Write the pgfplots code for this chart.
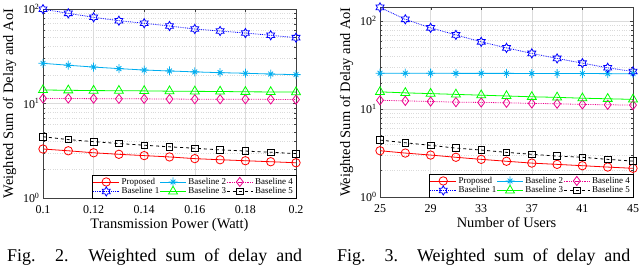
\documentclass[border=0pt]{standalone}
\usepackage{fontspec}
\setmainfont{Liberation Serif}
\usepackage{pgfplots}
\pgfplotsset{compat=1.18}
\usepackage{pgfplotstable}

\pgfdeclareplotmark{hexagram}{%
  \pgfpathmoveto{\pgfpointpolar{90}{\pgfplotmarksize}}%
  \pgfpathlineto{\pgfpointpolar{120}{0.577*\pgfplotmarksize}}%
  \pgfpathlineto{\pgfpointpolar{150}{\pgfplotmarksize}}%
  \pgfpathlineto{\pgfpointpolar{180}{0.577*\pgfplotmarksize}}%
  \pgfpathlineto{\pgfpointpolar{210}{\pgfplotmarksize}}%
  \pgfpathlineto{\pgfpointpolar{240}{0.577*\pgfplotmarksize}}%
  \pgfpathlineto{\pgfpointpolar{270}{\pgfplotmarksize}}%
  \pgfpathlineto{\pgfpointpolar{300}{0.577*\pgfplotmarksize}}%
  \pgfpathlineto{\pgfpointpolar{330}{\pgfplotmarksize}}%
  \pgfpathlineto{\pgfpointpolar{0}{0.577*\pgfplotmarksize}}%
  \pgfpathlineto{\pgfpointpolar{30}{\pgfplotmarksize}}%
  \pgfpathlineto{\pgfpointpolar{60}{0.577*\pgfplotmarksize}}%
  \pgfpathclose
  \pgfusepathqstroke}
\pgfdeclareplotmark{matast}{%
  \pgfpathmoveto{\pgfqpoint{-\pgfplotmarksize}{0pt}}\pgfpathlineto{\pgfqpoint{\pgfplotmarksize}{0pt}}%
  \pgfpathmoveto{\pgfqpoint{0pt}{-\pgfplotmarksize}}\pgfpathlineto{\pgfqpoint{0pt}{\pgfplotmarksize}}%
  \pgfpathmoveto{\pgfpointpolar{45}{0.75*\pgfplotmarksize}}\pgfpathlineto{\pgfpointpolar{225}{0.75*\pgfplotmarksize}}%
  \pgfpathmoveto{\pgfpointpolar{135}{0.75*\pgfplotmarksize}}\pgfpathlineto{\pgfpointpolar{315}{0.75*\pgfplotmarksize}}%
  \pgfusepathqstroke}

\pgfplotstableread{
x     P     B1    B2    B3    B4    B5
0.10  3.30  99.5  26.6  13.9  11.3  4.45
0.11  3.16  90.0  25.4  13.8  11.3  4.15
0.12  3.01  81.7  24.3  13.7  11.25 3.95
0.13  2.90  75.2  23.4  13.65 11.2  3.77
0.14  2.81  70.6  22.6  13.6  11.2  3.62
0.15  2.72  66.1  22.1  13.5  11.15 3.48
0.16  2.61  61.4  21.6  13.45 11.1  3.36
0.17  2.54  58.5  21.2  13.4  11.1  3.23
0.18  2.48  55.7  20.9  13.3  11.1  3.14
0.19  2.42  52.7  20.5  13.25 11.05 3.05
0.20  2.36  49.7  20.2  13.2  11.0  2.95
}\powtab

\pgfplotstableread{
x   P     B1     B2    B3    B4    B5
25  3.36  143.5  25.6  15.7  12.6  4.44
27  3.16  105.0  25.6  15.3  12.4  4.14
29  3.00  84.0   25.6  15.0  12.2  3.87
31  2.83  69.8   25.5  14.7  12.0  3.60
33  2.68  58.2   25.5  14.4  11.9  3.42
35  2.55  49.7   25.5  14.1  11.8  3.22
37  2.43  43.0   25.4  13.8  11.6  3.06
39  2.35  37.7   25.4  13.6  11.5  2.92
41  2.27  33.3   25.4  13.3  11.3  2.83
43  2.19  29.5   25.3  13.1  11.2  2.68
45  2.12  26.8   25.3  12.9  11.1  2.56
}\usertab

\newcommand{\legent}[1]{\makebox[36bp][l]{#1}}

\pgfplotsset{
  mystyle/.style={
    scale only axis,
    anchor=south west,
    ymin=1,
    ytick={1,10,100},
    yticklabels={10\textsuperscript{0},10\textsuperscript{1},10\textsuperscript{2}},
    tick align=inside,
    major tick length=3bp,
    minor tick length=1.8bp,
    xmajorgrids, ymajorgrids, yminorgrids,
    major grid style={draw=black!14, line width=0.4pt},
    minor grid style={draw=black!14, dotted, line width=0.4pt},
    axis line style={draw=black!75, line width=0.5pt},
    tick style={draw=black!75},
    ticklabel style={font=\fontsize{12}{14}\selectfont},
    xticklabel style={yshift=-4bp},
    label style={font=\fontsize{14.5}{16}\selectfont},
    xlabel style={yshift=2bp},
    ylabel={Weighted Sum of Delay and AoI},
    legend columns=3,
    legend style={at={(1,0)}, anchor=south east, draw=black, line width=0.4pt,
      font=\fontsize{9}{10}\selectfont, inner xsep=1bp, inner ysep=0.5bp, row sep=-2.2bp},
    legend cell align=left,
    legend image code/.code={\draw[mark repeat=2,mark phase=2] plot coordinates {(0bp,0bp) (13bp,0bp) (26bp,0bp)};},
  },
  sP/.style={red, line width=0.8pt, mark=o, mark size=4.2bp, mark options={solid}},
  sB1/.style={blue, line width=0.8pt, densely dotted, mark=hexagram, mark size=4.6bp, mark options={solid}},
  sB2/.style={cyan, line width=0.8pt, mark=matast, mark size=4.5bp, mark options={solid}},
  sB3/.style={green, line width=0.8pt, mark=triangle, mark size=5.2bp, mark options={solid}},
  sB4/.style={magenta, line width=0.8pt, densely dotted, mark=diamond, mark size=4.6bp, mark options={solid}},
  sB5/.style={black, line width=0.8pt, dashed, mark=square, mark size=3.3bp, mark options={solid}},
}

\begin{document}
\begin{tikzpicture}
\path[use as bounding box] (0,0) rectangle (640bp,266bp);

\begin{semilogyaxis}[mystyle,
  at={(43bp,68bp)}, width=253bp, height=189bp,
  xmin=0.1, xmax=0.2, ymax=100,
  xtick={0.1,0.12,0.14,0.16,0.18,0.2},
  xticklabels={0.1,0.12,0.14,0.16,0.18,0.2},
  xlabel={Transmission Power (Watt)},
]
\addplot[sP]  table[x=x,y=P]  {\powtab}; \addlegendentry{\legent{Proposed}}
\addplot[sB2] table[x=x,y=B2] {\powtab}; \addlegendentry{\legent{Baseline 2}}
\addplot[sB4] table[x=x,y=B4] {\powtab}; \addlegendentry{Baseline 4}
\addplot[sB1] table[x=x,y=B1] {\powtab}; \addlegendentry{\legent{Baseline 1}}
\addplot[sB3] table[x=x,y=B3] {\powtab}; \addlegendentry{\legent{Baseline 3}}
\addplot[sB5] table[x=x,y=B5] {\powtab}; \addlegendentry{Baseline 5}
\end{semilogyaxis}

\begin{semilogyaxis}[mystyle,
  at={(380bp,69bp)}, width=253bp, height=190bp,
  xmin=25, xmax=45, ymax=145,
  xtick={25,29,33,37,41,45},
  xticklabels={25,29,33,37,41,45},
  xlabel={Number of Users},
]
\addplot[sP]  table[x=x,y=P]  {\usertab}; \addlegendentry{\legent{Proposed}}
\addplot[sB2] table[x=x,y=B2] {\usertab}; \addlegendentry{\legent{Baseline 2}}
\addplot[sB4] table[x=x,y=B4] {\usertab}; \addlegendentry{Baseline 4}
\addplot[sB1] table[x=x,y=B1] {\usertab}; \addlegendentry{\legent{Baseline 1}}
\addplot[sB3] table[x=x,y=B3] {\usertab}; \addlegendentry{\legent{Baseline 3}}
\addplot[sB5] table[x=x,y=B5] {\usertab}; \addlegendentry{Baseline 5}
\end{semilogyaxis}

\node[anchor=base west, inner sep=0pt, font=\fontsize{18}{20}\selectfont] at (7bp,5bp)
  {\makebox[295bp][s]{Fig. 2. Weighted sum of delay and}};
\node[anchor=base west, inner sep=0pt, font=\fontsize{18}{20}\selectfont] at (337bp,5bp)
  {\makebox[293bp][s]{Fig. 3. Weighted sum of delay and}};
\end{tikzpicture}
\end{document}
